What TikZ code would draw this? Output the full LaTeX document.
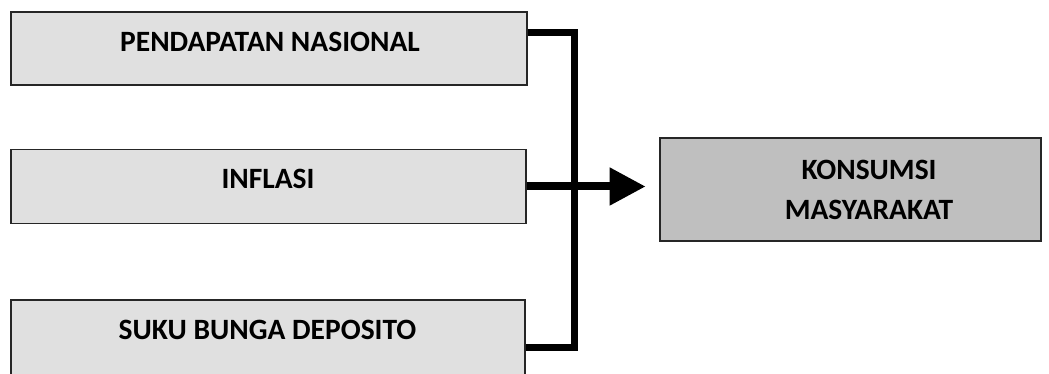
\documentclass[tikz,border=0pt]{standalone}
\usepackage{fontspec}
\setmainfont{Carlito}
\usetikzlibrary{arrows.meta}
\begin{document}
\begin{tikzpicture}[x=1pt,y=-1pt,
  inbox/.style={draw=black!85, line width=1.8pt, fill=black!12, rectangle, inner sep=0pt},
  outbox/.style={draw=black!85, line width=1.8pt, fill=black!25, rectangle, inner sep=0pt},
  lbl/.style={font=\bfseries\fontsize{29.5}{36}\selectfont, inner sep=0pt, anchor=base},
  link/.style={line width=7pt, line join=miter}]
\useasboundingbox (0,0) rectangle (1049,374);

% input factors
\node[inbox, minimum width=516pt, minimum height=73pt] (p1) at (269,48.5) {};
\node[lbl] (t1) at (270,51.7) {PENDAPATAN NASIONAL};
\node[inbox, minimum width=515pt, minimum height=74pt] (p2) at (268.5,186.5) {};
\node[lbl] (t2) at (268,189) {INFLASI};
\node[inbox, minimum width=514pt, minimum height=94pt] (p3) at (268,347) {};
\node[lbl] (t3) at (267.5,339.3) {SUKU BUNGA DEPOSITO};

% outcome
\node[outbox, minimum width=381pt, minimum height=103pt] (k) at (850.5,189.5) {};
\node[lbl] (tk1) at (869,180) {KONSUMSI};
\node[lbl] (tk2) at (869,219) {MASYARAKAT};

% bracket joining the factors
\coordinate (bar) at (574,0);
\draw[link] ([yshift=16pt]p1.east) -- ([yshift=16pt]p1.east -| bar)
  -- (p3.east -| bar) -- (p3.east);
\draw[line width=8pt, -{Triangle[length=36pt,width=36pt]}]
  (p2.east) -- ([xshift=-13.5pt]p2.east -| k.west);
\end{tikzpicture}
\end{document}
